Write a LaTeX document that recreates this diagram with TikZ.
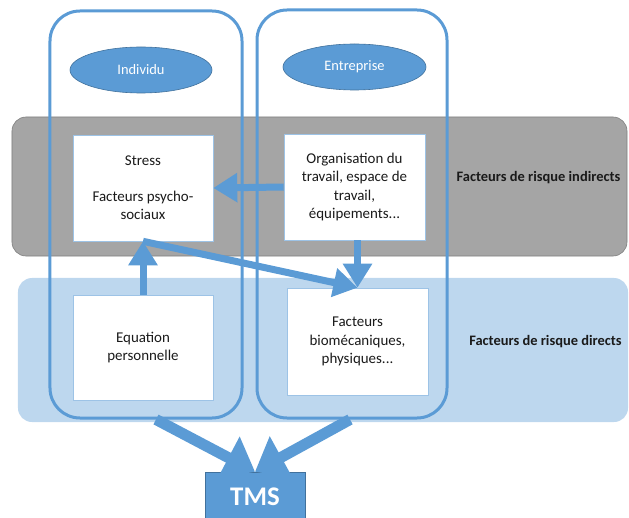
\documentclass[tikz,border=0pt]{standalone}
\usepackage{fontspec}
\setmainfont{Carlito}
\usetikzlibrary{arrows.meta,shapes.geometric}
\definecolor{blu}{HTML}{5B9BD5}
\definecolor{bluedge}{HTML}{41719C}
\definecolor{grayband}{HTML}{A5A5A5}
\definecolor{grayedge}{HTML}{7F7F7F}
\definecolor{lightband}{HTML}{BDD7EE}
\definecolor{boxedge}{HTML}{9DC3E6}
\definecolor{txt}{HTML}{1A1A1A}
\begin{document}
\begin{tikzpicture}[x=1bp,y=-1bp,
  band/.style={rectangle, rounded corners=14bp, inner sep=0pt},
  column/.style={rectangle, rounded corners=30bp, draw=blu, line width=3bp, inner sep=0pt},
  oval/.style={ellipse, fill=blu, draw=bluedge, line width=0.6bp, inner sep=0pt, text=white, font=\fontsize{14.5}{17}\selectfont},
  whitebox/.style={rectangle, fill=white, draw=boxedge, line width=0.6bp, inner sep=0pt, align=center, text=txt, font=\fontsize{15}{18.2}\selectfont},
  sidelabel/.style={font=\bfseries\fontsize{14.5}{17}\selectfont, text=txt},
  thinarrow/.style={draw=blu, line width=7bp, -{Triangle[length=24bp,width=28bp]}},
  fatarrow/.style={draw=blu, line width=11bp, -{Triangle[length=30bp,width=46bp]}}
]
\useasboundingbox (0,0) rectangle (629,518);
% bands
\node[band, fill=grayband, draw=grayedge, line width=0.6bp, minimum width=615bp, minimum height=139bp] (indirect) at (319.5,186.5) {};
\node[band, fill=lightband, minimum width=610bp, minimum height=144bp] (direct) at (323,350) {};
% columns
\node[column, minimum width=192bp, minimum height=407bp] (colL) at (146,214.5) {};
\node[column, minimum width=190bp, minimum height=408bp] (colR) at (352,214) {};
% ellipses
\node[oval, minimum width=142bp, minimum height=46bp] (individu) at (141,70) {Individu};
\node[oval, minimum width=143bp, minimum height=46bp] (entreprise) at (354.5,67) {Entreprise};
% boxes
\node[whitebox, minimum width=140bp, minimum height=106bp] (stress) at (143,188) {Stress\\[18bp]Facteurs psycho-\\sociaux};
\node[whitebox, minimum width=141bp, minimum height=106bp] (org) at (354.5,187) {Organisation du\\travail, espace de\\travail,\\équipements...};
\node[whitebox, minimum width=140bp, minimum height=105bp] (equation) at (143,347.5) {Equation\\personnelle};
\node[whitebox, minimum width=141bp, minimum height=107bp] (biomec) at (357.5,341.5) {Facteurs\\biomécaniques,\\physiques...};
% labels
\node[sidelabel] (lblind) at (538.5,178) {Facteurs de risque indirects};
\node[sidelabel] (lbldir) at (545.5,342) {Facteurs de risque directs};
% TMS
\node[rectangle, fill=blu, draw=bluedge, line width=0.6bp, minimum width=100bp, minimum height=50bp, inner sep=0pt, text=white, font=\bfseries\fontsize{27}{31}\selectfont] (tms) at (255,497) {TMS};
% arrows
\draw[thinarrow] (org.west) -- (stress.east);
\draw[thinarrow] (biomec.north |- org.south) -- (biomec.north);
\draw[thinarrow] (stress.south) -- (biomec.north);
\draw[thinarrow] (equation.north) -- (stress.south);
\draw[fatarrow] ([xshift=10bp]colL.south) -- (tms.north);
\draw[fatarrow] ([xshift=-2bp]colR.south) -- (tms.north);
\end{tikzpicture}
\end{document}
